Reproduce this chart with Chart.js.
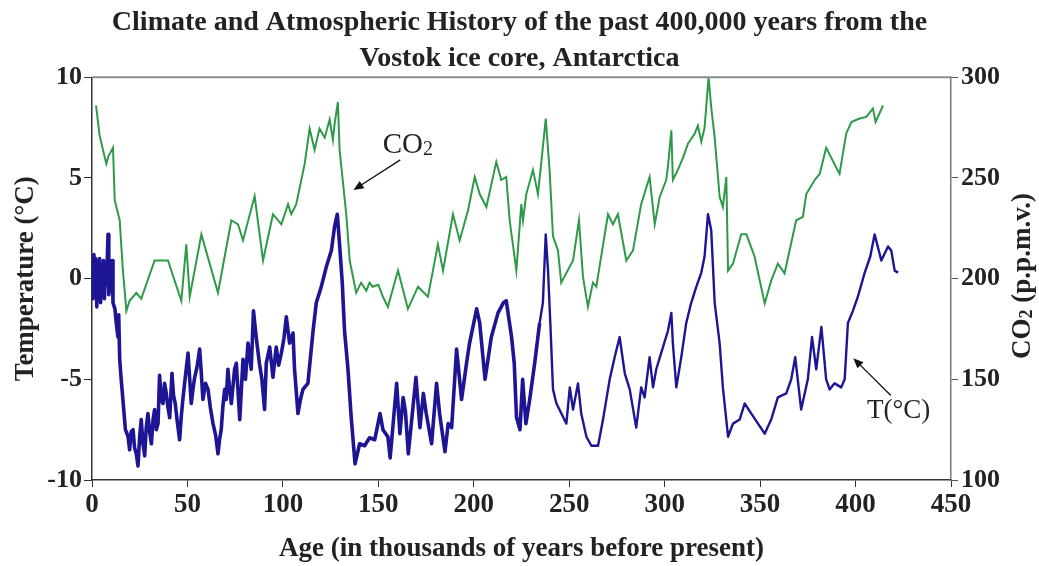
<!DOCTYPE html>
<html lang="en">
<head>
<meta charset="UTF-8">
<title>Vostok ice core</title>
<style>
  body { margin: 0; background: #fff; }
  #box { width: 1039px; height: 566px; position: relative; }
</style>
<script src="https://cdn.jsdelivr.net/npm/chart.js"></script>
</head>
<body>
<div id="box"><canvas id="vostok"></canvas></div>
<script>
// Temperature (deg C) against age (thousands of years before present)
const tempAge = [0, 0.5, 1, 1.5, 2, 2.5, 3, 3.5, 4, 4.5, 5, 5.5, 6, 6.5, 7, 7.5, 8, 8.4, 8.8, 9.5, 10, 10.5,
  11, 12, 12.7, 13.6, 14, 14.5, 15.3, 16.8, 17.5, 18.9, 19.7, 20.5, 21.5, 22.3, 23.2, 24.1, 25, 25.8, 26.7,
  27.6, 28.4, 29.3, 30.2, 31.1, 32, 32.8, 33.7, 34.6, 35.4, 36.3, 37.2, 38, 38.9, 39.8, 40.7, 41.9, 42.7,
  43.6, 44.8, 45.9, 46.8, 47.7, 49, 50.3, 51.2, 52, 53, 53.8, 55, 56.4, 57.2, 58.1, 59.5, 60.8, 62, 63.4,
  64.8, 66, 66.8, 67.7, 68.6, 69.5, 70.3, 71.2, 72, 73, 74.7, 75.6, 77.4, 79.1, 80.4, 81.7, 83.4, 84.6, 86,
  87.7, 89, 90.4, 91.3, 93.1, 94.8, 96.5, 97.8, 99.2, 100.5, 101.8, 103.5, 105.3, 106.1, 107.9, 109.2,
  110.5, 113.1, 115.8, 117.5, 120.1, 122.8, 125.4, 127.1, 128.5, 129.7, 131.1, 132.3, 134.1, 135.8, 137.8,
  140.2, 142.8, 145.4, 148.1, 150.9, 152.4, 155, 156.2, 159.6, 161.3, 163, 164.2, 165.7, 169.7, 171.8, 173.6,
  175.1, 177.9, 180.5, 182.1, 184.9, 186.6, 188.4, 191, 193.6, 196.2, 197.8, 201.5, 203.1, 205.9, 209.2,
  212.7, 215.5, 217, 219.8, 221.2, 222.4, 224.2, 225.6, 227.3, 229.3, 231.9, 234.5, 236.2, 237.7, 238.9, 240.1,
  241.5, 243.3, 245.9, 248.5, 250.3, 252, 254.6, 256.3, 259, 261.6, 265.1, 267.7, 271.2, 273.8, 276.4,
  279.1, 281.7, 285.1, 287.7, 289.5, 292.1, 293.9, 295.6, 299.1, 301.7, 303.5, 304.3, 306.1, 308.7, 311.3,
  313.9, 316.6, 319.2, 320.9, 322.7, 324.4, 326.2, 328.8, 330.5, 333.2, 335.8, 339.3, 341.9, 345.4, 348.9,
  352.4, 355.8, 359.3, 363.7, 366.3, 368.4, 371.5, 375, 377.2, 379.4, 382.1, 384.6, 386.4, 389, 392.5,
  394.3, 396, 398.6, 401.2, 404.8, 407.7, 410, 413.5, 417, 418.7, 420.5, 422.3];
const tempVal = [0.5, -1.0, 1.2, -0.5, 1.0, -1.4, 0.8, -0.8, 1.0, -1.2, 0.6, -0.5, 0.9, -1.0, 0.3, -0.3, 1.0, 2.2, -0.8, 0.8, -0.6, 0.9,
  -1.2, -1.5, -2.2, -2.9, -1.8, -4.0, -5.0, -6.7, -7.5, -7.85, -8.5, -7.6, -7.5, -8.4, -8.7, -9.3, -7.8, -7.0, -8.2,
  -8.8, -7.4, -6.7, -7.6, -8.2, -7.0, -6.5, -7.5, -7.2, -4.8, -6.0, -6.2, -5.2, -5.7, -6.4, -6.9, -4.7, -5.8,
  -6.2, -7.2, -8.0, -6.8, -5.9, -4.8, -3.7, -5.0, -6.2, -5.4, -4.9, -4.4, -3.5, -4.6, -6.0, -5.2, -5.5, -6.4, -7.2,
  -7.8, -8.7, -8.0, -7.5, -6.3, -5.5, -6.0, -4.5, -5.4, -6.2, -4.5, -4.2, -7.0, -4.0, -5.0, -3.2, -4.5, -1.6, -2.9,
  -4.2, -5.0, -6.5, -4.2, -3.4, -4.9, -3.4, -4.3, -3.7, -3.0, -1.9, -3.2, -2.7, -4.5, -6.7, -6.0,
  -5.5, -5.2, -2.6, -1.2, -0.4, 0.6, 1.4, 2.6, 3.2, 1.7, -0.2, -2.6, -4.5, -6.9, -9.2,
  -8.2, -8.3, -7.9, -8.0, -6.7, -7.5, -7.85, -8.9, -5.2, -7.7, -5.9, -6.6, -8.7, -4.9, -7.4, -5.7,
  -6.7, -8.2, -5.2, -6.7, -8.6, -7.2, -7.4, -3.5, -6.0, -4.2, -3.2, -1.5, -2.2, -5.0, -2.9,
  -1.7, -1.2, -1.1, -2.9, -4.2, -6.9, -7.5, -5.0, -7.2, -6.0, -4.2, -2.2, -1.2, 2.2, 0.4, -2.2,
  -5.5, -6.2, -6.7, -7.2, -5.4, -6.5, -5.2, -6.7, -7.85, -8.3, -8.3, -7.0, -5.0, -3.9, -2.9,
  -4.7, -5.5, -7.4, -5.4, -5.9, -3.9, -5.4, -4.5, -3.4, -2.6, -1.7, -3.2, -5.4, -3.9, -2.2,
  -1.2, -0.4, 0.3, 1.1, 3.2, 2.4, -1.2, -3.2, -5.4, -7.85, -7.2, -7.0, -6.2, -6.7, -7.2,
  -7.7, -7.0, -5.9, -5.7, -5.0, -3.9, -6.5, -5.0, -2.9, -4.5, -2.4, -5.0, -5.5, -5.2, -5.4,
  -5.0, -2.2, -1.6, -0.9, 0.3, 1.1, 2.2, 0.9, 1.6, 1.4, 0.4, 0.3];

// CO2 (p.p.m.v.) against age
const co2Age = [2.1, 4, 7.5, 8.7, 11, 11.9, 14.5, 16.2, 18, 19.7, 23.2, 25.8, 32.8, 39.8, 46.8, 49.4, 51.2, 57.3,
  66, 73, 76.5, 79.1, 85.2, 89.6, 94.8, 99.2, 102.7, 104.4, 107, 111.4, 114, 116.6, 119.2, 121.9, 124.5,
  126.2, 127.1, 128.8, 129.7, 133.2, 135, 138.4, 141, 143.7, 145.4, 147, 150, 152.4, 155, 160.3, 165.5,
  170.8, 176, 181.2, 183.9, 189.1, 192.6, 197, 200.5, 203.1, 206.6, 211.8, 214.4, 217, 218.8, 222.3,
  224.9, 225.8, 227.5, 231, 233.6, 235.3, 237.7, 239.7, 241.5, 244.1, 245.8, 252, 255.1, 257.2, 259.8,
  262.4, 264.2, 270.3, 272.9, 275.5, 279.9, 283.4, 287.7, 292.1, 294.8, 297.4, 300.8, 301.7, 303.5, 304.3,
  306.9, 309.6, 312.2, 315.7, 317.4, 319.2, 320.9, 323, 324.4, 326.2, 328.8, 330.5, 332.3, 333.2, 335.8,
  340.1, 342.8, 347.1, 352.4, 355.8, 359.3, 362.8, 368.9, 372.4, 374.2, 378.6, 381.2, 384.6, 391.6, 395.1,
  397.8, 402.1, 405.6, 409.1, 410.5, 414.4];
const co2Val = [286, 271, 257, 261, 265, 239, 229, 204, 184, 189, 193, 190, 209, 209, 189, 217, 191, 222,
  193, 229, 227, 219, 241, 209, 232, 227, 237, 232, 237, 257, 274.5, 264, 274.5, 270, 279,
  269, 277, 287.7, 264, 232, 209, 193, 198, 194, 198, 196, 197, 191, 186, 204, 185,
  196, 191, 217, 204, 232, 219, 234, 250.5, 242, 235.6, 258, 249, 250.5, 229, 204,
  237, 229, 242, 254, 242, 257, 279.5, 254, 221, 214, 198, 209, 229, 201, 186,
  198, 196, 232, 227, 232, 209, 214, 237, 250.5, 227, 240.6, 249, 255.5, 273.7, 249,
  254, 260, 267, 272, 276, 268, 275, 300, 285, 270, 240.6, 235.6, 250.5, 204, 207.5,
  222, 222, 211, 187.7, 199, 207.5, 202.6, 229, 230.7, 242, 249, 252, 265, 252, 272,
  277.8, 279.5, 280.3, 284.5, 277.8, 286];

const ageTicks = [0, 50, 100, 150, 200, 250, 300, 350, 400, 450];
const tempTicks = [-10, -5, 0, 5, 10];
const co2Ticks = [100, 150, 200, 250, 300];

const SERIF = '"Liberation Serif", "Times New Roman", serif';
const GREEN = '#2e9a48';
const BLUE = '#1d1594';
const INK = '#222';

function pairs(xs, ys) {
  return xs.map((x, i) => ({ x: x, y: ys[i] }));
}

function fixTicks(list) {
  return function (scale) { scale.ticks = list.map(v => ({ value: v })); };
}

function arrow(ctx, x1, y1, x2, y2) {
  // line from (x1,y1) to tip (x2,y2)
  const ang = Math.atan2(y2 - y1, x2 - x1);
  ctx.beginPath();
  ctx.moveTo(x1, y1);
  ctx.lineTo(x2 - 6 * Math.cos(ang), y2 - 6 * Math.sin(ang));
  ctx.stroke();
  ctx.beginPath();
  ctx.moveTo(x2, y2);
  ctx.lineTo(x2 - 11 * Math.cos(ang - 0.4), y2 - 11 * Math.sin(ang - 0.4));
  ctx.lineTo(x2 - 11 * Math.cos(ang + 0.4), y2 - 11 * Math.sin(ang + 0.4));
  ctx.closePath();
  ctx.fill();
}

// frame top line, labels with arrows, right axis title
const extras = {
  id: 'extras',
  afterDraw(chart) {
    const { ctx, chartArea: a, scales } = chart;
    const x = scales.x, y = scales.y;
    ctx.save();
    ctx.strokeStyle = '#8c8c8c';
    ctx.lineWidth = 2;
    ctx.beginPath();
    ctx.moveTo(a.left, a.top);
    ctx.lineTo(a.right + 1, a.top);
    ctx.stroke();

    ctx.strokeStyle = '#111';
    ctx.fillStyle = '#111';
    ctx.lineWidth = 1.3;
    arrow(ctx, x.getPixelForValue(161.5), y.getPixelForValue(5.9), x.getPixelForValue(137), y.getPixelForValue(4.4));
    arrow(ctx, x.getPixelForValue(418.5), y.getPixelForValue(-5.8), x.getPixelForValue(398.8), y.getPixelForValue(-3.95));

    ctx.fillStyle = INK;
    ctx.textBaseline = 'alphabetic';
    ctx.textAlign = 'left';
    let lx = x.getPixelForValue(152.3), ly = y.getPixelForValue(6.25);
    ctx.font = '29px ' + SERIF;
    ctx.fillText('CO', lx, ly);
    const w = ctx.measureText('CO').width;
    ctx.font = '20px ' + SERIF;
    ctx.fillText('2', lx + w, ly + 2);

    ctx.font = '27px ' + SERIF;
    ctx.fillText('T(°C)', x.getPixelForValue(406), y.getPixelForValue(-6.9));

    // right axis title, read from bottom to top
    ctx.translate(1023, 276);
    ctx.rotate(-Math.PI / 2);
    ctx.textBaseline = 'middle';
    const big = 'bold 27px ' + SERIF, small = 'bold 18px ' + SERIF;
    ctx.font = big;
    const wCO = ctx.measureText('CO').width, wRest = ctx.measureText(' (p.p.m.v.)').width;
    ctx.font = small;
    const w2 = ctx.measureText('2').width;
    let sx = -(wCO + w2 + wRest) / 2;
    ctx.font = big;
    ctx.fillText('CO', sx, 0);
    ctx.font = small;
    ctx.fillText('2', sx + wCO, 4);
    ctx.font = big;
    ctx.fillText(' (p.p.m.v.)', sx + wCO + w2, 0);
    ctx.restore();
  }
};

new Chart(document.getElementById('vostok'), {
  type: 'line',
  data: {
    datasets: [
      {
        label: 'T(°C)',
        data: pairs(tempAge, tempVal),
        yAxisID: 'y',
        borderColor: BLUE,
        borderWidth: 2.4,
        // the older record is drawn as a denser, heavier trace
        segment: { borderWidth: c => (c.p0.parsed.x < 232 ? 3.6 : 2.4) },
        borderJoinStyle: 'round',
        pointRadius: 0,
        tension: 0
      },
      {
        label: 'CO2',
        data: pairs(co2Age, co2Val),
        yAxisID: 'y2',
        borderColor: GREEN,
        borderWidth: 2,
        pointRadius: 0,
        tension: 0
      }
    ]
  },
  options: {
    responsive: true,
    maintainAspectRatio: false,
    animation: false,
    layout: { padding: 0 },
    plugins: {
      legend: { display: false },
      tooltip: { enabled: false },
      title: {
        display: true,
        text: ['Climate and Atmospheric History of the past 400,000 years from the', 'Vostok ice core, Antarctica'],
        color: INK,
        font: { family: SERIF, size: 28, weight: 'bold', lineHeight: 1.3 },
        padding: { top: 4.5, bottom: 0 }
      }
    },
    scales: {
      x: {
        type: 'linear',
        min: 0,
        max: 450,
        afterBuildTicks: fixTicks(ageTicks),
        afterFit(scale) { scale.height = 86; },
        grid: { drawOnChartArea: false, color: '#333', tickLength: 7 },
        border: { color: '#333', width: 1.5 },
        ticks: { color: INK, padding: 2, maxRotation: 0, font: { family: SERIF, size: 27, weight: 'bold' } },
        title: {
          display: true,
          text: 'Age (in thousands of years before present)',
          color: INK,
          font: { family: SERIF, size: 27, weight: 'bold' },
          padding: { top: 0, bottom: 1 }
        }
      },
      y: {
        position: 'left',
        min: -10,
        max: 10,
        afterBuildTicks: fixTicks(tempTicks),
        afterFit(scale) { scale.width = 92; },
        grid: { drawOnChartArea: false, color: '#333', tickLength: 8 },
        border: { color: '#333', width: 1.5 },
        ticks: { color: INK, padding: 2, font: { family: SERIF, size: 26, weight: 'bold' } },
        title: {
          display: true,
          text: 'Temperature (°C)',
          color: INK,
          font: { family: SERIF, size: 27, weight: 'bold' },
          padding: { top: 10, bottom: 0 }
        }
      },
      y2: {
        position: 'right',
        min: 100,
        max: 300,
        afterBuildTicks: fixTicks(co2Ticks),
        afterFit(scale) { scale.width = 88; },
        grid: { drawOnChartArea: false, color: '#555', tickLength: 7 },
        border: { color: '#7a7a7a', width: 1.5 },
        ticks: { color: INK, padding: 3, font: { family: SERIF, size: 26, weight: 'bold' } }
      }
    }
  },
  plugins: [extras]
});
</script>
</body>
</html>
